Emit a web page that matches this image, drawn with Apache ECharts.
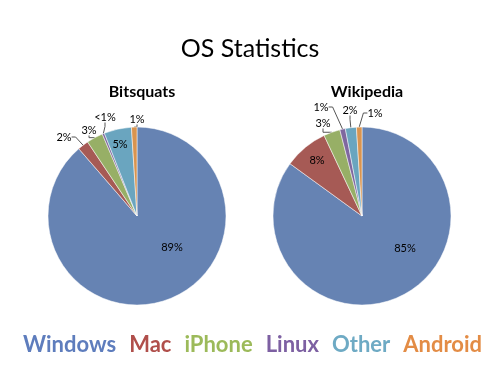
<!DOCTYPE html>
<html><head><meta charset="utf-8">
<script src="https://cdn.jsdelivr.net/npm/echarts@6/dist/echarts.min.js"></script>
<style>html,body{margin:0;padding:0;background:#fff}#c{width:500px;height:375px}</style>
</head><body><div id="c"></div>
<script>
var categories = ['Windows', 'Mac', 'iPhone', 'Linux', 'Other', 'Android'];
var bitsquatsValues = [89, 2, 3, 0.4, 5, 1];
var bitsquatsLabels = ['89%', '2%', '3%', '<1%', '5%', '1%'];
var wikipediaValues = [85, 8, 3, 1, 2, 1];
var wikipediaLabels = ['85%', '8%', '3%', '1%', '2%', '1%'];
var sliceColors = ['#6683b3', '#a65a55', '#97af66', '#7f679f', '#6aa5bf', '#d9944f'];
var legendColors = ['#5e7dbd', '#b04f4b', '#9cba5a', '#7d60a2', '#6eaac4', '#e38c45'];

var FONT = 'Lato';
// label placement (styling only): pixel centres for each slice label
var bitsquatsLabelPos = [[172, 247], [64, 137], [89, 130], [105, 117], [120, 144], [137, 119]];
var wikipediaLabelPos = [[405, 248], [317, 160], [323, 123], [321, 107], [350, 110], [375, 113]];

function buildData(values, labels, insideIdx) {
  return values.map(function (v, i) {
    var inside = insideIdx.indexOf(i) >= 0;
    return {
      name: categories[i], value: v,
      label: { show: true, position: inside ? 'inside' : 'outside', formatter: labels[i] },
      labelLine: { show: !inside }
    };
  });
}
function layoutFor(pos) {
  return function (p) {
    var q = pos[p.dataIndex];
    return { x: q[0], y: q[1], align: 'center', verticalAlign: 'middle', moveOverlap: false, hideOverlap: false };
  };
}
var chart = echarts.init(document.getElementById('c'));
chart.setOption({
  animation: false,
  color: sliceColors,
  title: [
    { text: 'OS Statistics', left: 'center', top: 31, textStyle: { fontFamily: FONT, fontSize: 25, fontWeight: 'normal', color: '#000' } },
    { text: 'Bitsquats', left: 137, top: 79, textAlign: 'center', textStyle: { fontFamily: FONT, fontSize: 16, fontWeight: 'bold', color: '#000' } },
    { text: 'Wikipedia', left: 362, top: 79, textAlign: 'center', textStyle: { fontFamily: FONT, fontSize: 16, fontWeight: 'bold', color: '#000' } }
  ],
  legend: {
    top: 334, left: 'center', width: 500, padding: 0, icon: 'none', itemWidth: 0, itemHeight: 0, itemGap: 8,
    textStyle: { fontFamily: FONT, fontSize: 22, fontWeight: 'bold' },
    data: categories.map(function (c, i) { return { name: c, textStyle: { color: legendColors[i] } }; })
  },
  series: [
    {
      type: 'pie', center: [137, 216], radius: 89, startAngle: 90, clockwise: true,
      itemStyle: { borderColor: '#fff', borderWidth: 0.5 },
      label: { fontFamily: FONT, fontSize: 11, color: '#000' },
      labelLine: { length: 6, length2: 4, lineStyle: { color: '#555', width: 1 } },
      labelLayout: layoutFor(bitsquatsLabelPos),
      emphasis: { disabled: true },
      data: buildData(bitsquatsValues, bitsquatsLabels, [0, 4])
    },
    {
      type: 'pie', center: [362, 216], radius: 89, startAngle: 90, clockwise: true,
      itemStyle: { borderColor: '#fff', borderWidth: 0.5 },
      label: { fontFamily: FONT, fontSize: 11, color: '#000' },
      labelLine: { length: 6, length2: 4, lineStyle: { color: '#555', width: 1 } },
      labelLayout: layoutFor(wikipediaLabelPos),
      emphasis: { disabled: true },
      data: buildData(wikipediaValues, wikipediaLabels, [0, 1])
    }
  ]
});
</script></body></html>
